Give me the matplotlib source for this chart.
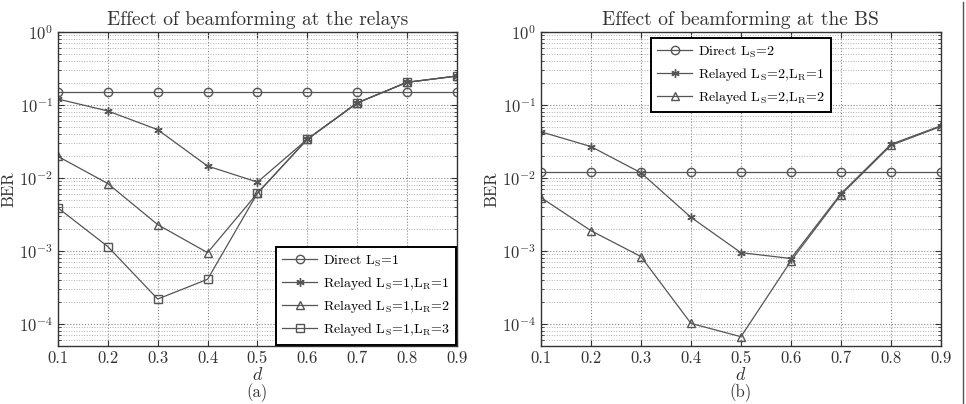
import matplotlib as mpl
mpl.use('Agg')
import matplotlib.pyplot as plt
import numpy as np
from matplotlib.ticker import LogLocator, MultipleLocator, NullFormatter, NullLocator
from matplotlib.lines import Line2D

plt.rcParams['font.family'] = 'serif'
plt.rcParams['font.serif'] = ['cmr10']
plt.rcParams['mathtext.fontset'] = 'cm'
plt.rcParams['axes.formatter.use_mathtext'] = True

# data
d = [0.1, 0.2, 0.3, 0.4, 0.5, 0.6, 0.7, 0.8, 0.9]

# (a) beamforming at the relays
direct_ls1 = [0.15, 0.15, 0.15, 0.15, 0.15, 0.15, 0.15, 0.15, 0.15]
relay_ls1_lr1 = [0.121, 0.083, 0.046, 0.0146, 0.0088, 0.034, 0.107, 0.205, 0.25]
relay_ls1_lr2 = [0.0198, 0.0084, 0.0023, 0.00095, 0.0062, 0.034, 0.107, 0.205, 0.25]
relay_ls1_lr3 = [0.0039, 0.00115, 0.00022, 0.00041, 0.0062, 0.034, 0.107, 0.205, 0.25]

# (b) beamforming at the BS
direct_ls2 = [0.0122, 0.0122, 0.0122, 0.0122, 0.0122, 0.0122, 0.0122, 0.0122, 0.0122]
relay_ls2_lr1 = [0.043, 0.027, 0.0118, 0.0029, 0.00095, 0.00079, 0.0061, 0.029, 0.052]
relay_ls2_lr2 = [0.0054, 0.0019, 0.00084, 0.000102, 0.000067, 0.00073, 0.0059, 0.028, 0.051]

line_col = '#555555'
text_col = '#333333'


def style_axes(ax, title, sub):
    ax.set_yscale('log')
    ax.set_xlim(0.1, 0.9)
    ax.set_ylim(5e-5, 1)
    ax.xaxis.set_major_locator(MultipleLocator(0.1))
    ax.xaxis.set_minor_locator(NullLocator())
    ax.yaxis.set_major_locator(LogLocator(base=10, numticks=10))
    ax.yaxis.set_minor_locator(LogLocator(base=10, subs=np.arange(2, 10), numticks=10))
    ax.yaxis.set_minor_formatter(NullFormatter())
    ax.set_xticklabels(['%.1f' % v for v in ax.get_xticks()])
    ax.grid(True, which='major', linestyle=':', color='#888888', linewidth=0.8)
    ax.grid(True, which='minor', axis='y', linestyle=':', color='#b0b0b0', linewidth=0.7)
    ax.tick_params(which='both', direction='in', top=True, right=True,
                   colors=text_col, labelsize=12)
    ax.tick_params(which='major', length=4)
    ax.tick_params(which='minor', length=2)
    for s in ax.spines.values():
        s.set_color('#333333')
        s.set_linewidth(1.0)
    ax.set_title(title, fontsize=14, color=text_col, pad=5)
    ax.set_ylabel('BER', fontsize=12, color=text_col, labelpad=2)
    ax.set_xlabel('$d$', fontsize=13, color=text_col, labelpad=0)
    ax.text(0.5, -0.148, sub, transform=ax.transAxes, ha='center', va='center',
            fontsize=12, color=text_col)


fig = plt.figure(figsize=(9.66, 4.04), dpi=100)
ax1 = fig.add_axes([0.060, 0.1436, 0.413, 0.777])
ax2 = fig.add_axes([0.560, 0.1436, 0.414, 0.777])

mk = dict(color=line_col, linewidth=0.9, markerfacecolor='none',
          markeredgecolor=line_col, markersize=6)
star = (6, 2, 0)

ax1.plot(d, direct_ls1, marker='o', label=r'Direct L$_\mathrm{S}$=1', **mk)
ax1.plot(d, relay_ls1_lr1, marker=star, label=r'Relayed L$_\mathrm{S}$=1,L$_\mathrm{R}$=1', **mk)
ax1.plot(d, relay_ls1_lr2, marker='^', label=r'Relayed L$_\mathrm{S}$=1,L$_\mathrm{R}$=2', **mk)
ax1.plot(d, relay_ls1_lr3, marker='s', label=r'Relayed L$_\mathrm{S}$=1,L$_\mathrm{R}$=3', **mk)
style_axes(ax1, 'Effect of beamforming at the relays', '(a)')
leg1 = ax1.legend(loc='lower right', fontsize=10, fancybox=False, framealpha=1,
                  edgecolor='black', borderpad=0.45, handlelength=2.5,
                  handletextpad=0.4, labelspacing=0.45, borderaxespad=0.1)
leg1.get_frame().set_linewidth(1.4)

ax2.plot(d, direct_ls2, marker='o', label=r'Direct L$_\mathrm{S}$=2', **mk)
ax2.plot(d, relay_ls2_lr1, marker=star, label=r'Relayed L$_\mathrm{S}$=2,L$_\mathrm{R}$=1', **mk)
ax2.plot(d, relay_ls2_lr2, marker='^', label=r'Relayed L$_\mathrm{S}$=2,L$_\mathrm{R}$=2', **mk)
style_axes(ax2, 'Effect of beamforming at the BS', '(b)')
leg2 = ax2.legend(loc='upper center', bbox_to_anchor=(0.5, 0.981), fontsize=10,
                  fancybox=False, framealpha=1, edgecolor='black', borderpad=0.45,
                  handlelength=2.5, handletextpad=0.4, labelspacing=0.45,
                  borderaxespad=0)
leg2.get_frame().set_linewidth(1.4)

# page border on the right
fig.add_artist(Line2D([963 / 966, 963 / 966], [0, 0.995], transform=fig.transFigure,
                      color='#555555', linewidth=1.0))

fig.savefig('out.png', dpi=100)
